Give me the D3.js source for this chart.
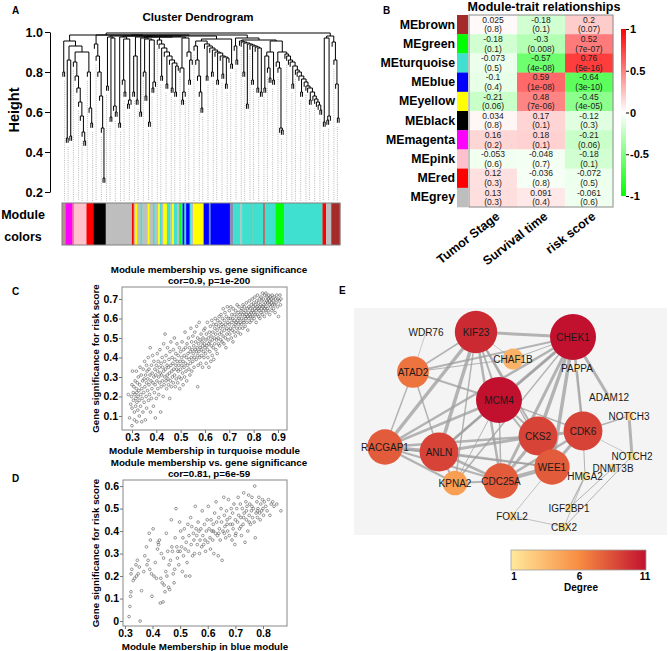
<!DOCTYPE html>
<html><head><meta charset="utf-8">
<script src="https://cdn.jsdelivr.net/npm/d3@7/dist/d3.min.js"></script>
<style>
body{margin:0;background:#fff;}
svg{display:block;font-family:'Liberation Sans',Arial,Helvetica,sans-serif;}
</style></head><body>
<svg id="fig" width="669" height="651"></svg>
<script>
// ================= DATA =================
// Panel A: merge height between neighbouring leaves of the gene tree
const dendroGaps = [
0.80,0.955,0.47,0.86,0.48,0.93,0.85,0.78,0.72,0.65,0.58,0.50,0.455,0.90,0.80,0.62,0.545,0.985,
0.94,0.88,0.80,0.68,0.52,0.27,0.985,0.73,0.975,0.575,0.97,0.63,0.60,0.98,0.545,0.975,0.76,0.70,
0.965,0.64,0.66,0.98,0.70,0.88,0.66,0.975,0.60,0.97,0.80,0.68,0.965,0.55,0.96,0.72,0.75,0.975,
0.96,0.94,0.78,0.92,0.90,0.74,0.88,0.86,0.72,0.845,0.70,0.83,0.975,0.82,0.66,0.70,0.97,0.90,0.76,
0.86,0.98,0.93,0.86,0.78,0.70,0.62,0.955,0.94,0.78,0.93,0.92,0.80,0.91,0.90,0.76,0.895,0.88,0.79,
0.875,0.74,0.87,0.965,0.84,0.985,0.93,0.86,0.97,0.955,0.95,0.80,0.945,0.64,0.94,0.935,0.76,0.93,
0.925,0.72,0.92,0.70,0.96,0.72,0.88,0.82,0.77,0.90,0.76,0.955,0.85,0.82,0.52,0.51,0.90,
0.89,0.88,0.86,0.85,0.74,0.83,0.81,0.80,0.78,0.70,0.765,0.75,0.73,0.72,0.66,0.70,0.68,0.665,0.65,0.635,0.61,
0.995,0.55,0.97,0.56,0.58,0.98,0.95,0.86,0.74,0.57];
// module colour of leaves, run-length [colour, number of leaves]
const moduleRuns = [
["#BC8F8F",2],["#FF00FF",4],["#F08080",1],["#FFC0CB",7],["#FF0000",4],["#000000",7],["#BEBEBE",15],
["#FF0000",1],["#D2B48C",1],["#FFFF00",1],["#BEBEBE",2],["#40E0D0",1],["#BEBEBE",3],["#FFFF00",1],["#BEBEBE",2],
["#40E0D0",1],["#BEBEBE",2],["#FFFF00",1],["#40E0D0",1],["#BEBEBE",1],["#FFFF00",2],["#40E0D0",2],["#BEBEBE",1],
["#FFFF00",1],["#40E0D0",2],["#BEBEBE",1],["#00FF00",1],["#40E0D0",1],["#0000FF",1],["#40E0D0",1],["#0000FF",2],
["#40E0D0",1],["#BEBEBE",1],
["#FFFF00",6],["#0000FF",3],["#6495ED",1],["#0000FF",11],["#8C8CB4",2],
["#40E0D0",4],["#BEBEBE",1],["#40E0D0",5],["#66CDAA",1],["#40E0D0",6],["#CD5C5C",1],["#40E0D0",6],
["#00FF00",5],["#40E0D0",22],["#FF0000",2],["#BEBEBE",3],["#A52A2A",5]];
const heightTicks = [0.2,0.4,0.6,0.8,1.0];
const guideCount = 60;

// Panel B
const traitNames = ["Tumor Stage","Survival time","risk score"];
const moduleNames = ["MEbrown","MEgreen","MEturquoise","MEblue","MEyellow","MEblack","MEmagenta","MEpink","MEred","MEgrey"];
const moduleColors = ["#A52A2A","#00FF00","#40E0D0","#0000FF","#FFFF00","#000000","#FF00FF","#FFC0CB","#FF0000","#BEBEBE"];
const corValues = [
[0.025,-0.18,0.2],[-0.18,-0.3,0.52],[-0.073,-0.57,0.76],[-0.1,0.59,-0.64],[-0.21,0.48,-0.45],
[0.034,0.17,-0.12],[0.16,0.18,-0.21],[-0.053,-0.048,-0.18],[0.12,-0.036,-0.072],[0.13,0.091,-0.061]];
const pValues = [
["0.8","0.1","0.07"],["0.1","0.008","7e-07"],["0.5","4e-08","5e-16"],["0.4","1e-08","3e-10"],["0.06","7e-06","4e-05"],
["0.8","0.1","0.3"],["0.2","0.1","0.06"],["0.6","0.7","0.1"],["0.3","0.8","0.5"],["0.3","0.4","0.6"]];
const corLegendTicks = [1,0.5,0,-0.5,-1];

// Panel C: turquoise module [MM, GS]
const turquoisePoints = [
[0.285,0.21],[0.29,0.09],[0.295,0.16],[0.298,0.20],[0.30,0.05],[0.30,0.26],[0.30,0.14],
[0.302,0.33],[0.305,0.22],[0.306,0.18],[0.308,0.25],[0.31,0.08],[0.31,0.12],[0.312,0.21],[0.313,0.28],[0.315,0.15],[0.316,0.19],[0.318,0.24],[0.318,0.33],[0.32,0.07],[0.32,0.17],[0.32,0.22],[0.322,0.27],[0.324,0.13],[0.325,0.2],[0.326,0.30],[0.328,0.23],[0.33,0.10],[0.33,0.18],
[0.332,0.26],[0.333,0.35],[0.335,0.15],[0.336,0.21],[0.338,0.31],[0.34,0.07],[0.34,0.24],[0.342,0.19],[0.344,0.28],[0.345,0.12],[0.346,0.34],[0.348,0.22],[0.35,0.29],[0.35,0.17],[0.352,0.38],[0.353,0.25],[0.355,0.08],[0.356,0.31],[0.358,0.20],[0.36,0.27],[0.36,0.36],[0.36,0.14],
[0.362,0.33],[0.364,0.23],[0.365,0.29],[0.367,0.40],[0.368,0.18],[0.37,0.34],[0.37,0.26],[0.372,0.21],[0.374,0.31],[0.375,0.45],[0.376,0.12],[0.378,0.28],[0.38,0.36],[0.38,0.19],[0.382,0.24],[0.383,0.32],[0.385,0.41],[0.386,0.27],[0.388,0.15],[0.39,0.30],[0.39,0.38],[0.392,0.22],[0.394,0.34],[0.395,0.26],[0.396,0.09],[0.398,0.31],[0.40,0.19],[0.40,0.36],
[0.402,0.28],[0.404,0.42],[0.405,0.33],[0.406,0.24],[0.408,0.38],[0.41,0.30],[0.41,0.21],[0.412,0.35],[0.414,0.27],[0.415,0.44],[0.416,0.32],[0.418,0.12],[0.42,0.37],[0.42,0.25],[0.422,0.31],[0.424,0.40],[0.425,0.28],[0.426,0.35],[0.428,0.20],[0.43,0.33],[0.43,0.47],[0.432,0.26],[0.434,0.38],[0.435,0.30],[0.436,0.52],[0.438,0.34],[0.44,0.28],[0.44,0.41],[0.442,0.24],[0.444,0.36],[0.445,0.31],[0.446,0.45],[0.448,0.29],
[0.45,0.35],[0.45,0.26],[0.452,0.39],[0.454,0.32],[0.455,0.19],[0.456,0.43],[0.458,0.28],[0.46,0.36],[0.46,0.48],[0.462,0.25],[0.464,0.33],[0.465,0.40],[0.466,0.30],[0.468,0.37],[0.47,0.27],[0.47,0.44],[0.472,0.34],[0.474,0.50],[0.475,0.31],[0.476,0.39],[0.478,0.25],[0.48,0.36],[0.48,0.42],[0.482,0.29],[0.484,0.34],[0.485,0.47],[0.486,0.38],[0.488,0.27],[0.49,0.33],[0.49,0.41],[0.492,0.36],[0.494,0.30],[0.495,0.45],[0.496,0.24],[0.498,0.38],
[0.50,0.34],[0.50,0.43],[0.502,0.29],[0.504,0.40],[0.505,0.36],[0.506,0.48],[0.508,0.32],[0.51,0.38],[0.51,0.26],[0.512,0.44],[0.514,0.35],[0.515,0.41],[0.516,0.30],[0.518,0.53],[0.52,0.37],[0.52,0.45],[0.522,0.33],[0.524,0.40],[0.525,0.28],[0.526,0.47],[0.528,0.36],[0.53,0.42],[0.532,0.50],[0.534,0.34],[0.535,0.39],[0.536,0.45],[0.538,0.31],[0.54,0.43],[0.54,0.37],[0.542,0.55],[0.544,0.40],[0.545,0.48],[0.546,0.33],[0.548,0.44],
[0.55,0.38],[0.55,0.51],[0.552,0.42],[0.554,0.46],[0.555,0.35],[0.556,0.40],[0.558,0.53],[0.56,0.44],[0.57,0.25],[0.562,0.48],[0.564,0.39],[0.565,0.43],[0.566,0.56],[0.568,0.45],[0.57,0.41],[0.57,0.50],[0.572,0.36],[0.574,0.47],[0.575,0.43],[0.576,0.58],[0.578,0.40],[0.58,0.49],[0.58,0.45],[0.582,0.37],[0.584,0.52],[0.585,0.44],[0.586,0.41],[0.588,0.48],[0.59,0.46],[0.59,0.35],[0.592,0.50],[0.594,0.43],[0.595,0.54],[0.596,0.40],[0.598,0.47],
[0.60,0.45],[0.60,0.55],[0.602,0.42],[0.604,0.49],[0.605,0.37],[0.606,0.52],[0.608,0.46],[0.61,0.44],[0.61,0.58],[0.612,0.40],[0.614,0.50],[0.615,0.47],[0.616,0.35],[0.618,0.53],[0.62,0.48],[0.62,0.43],[0.622,0.56],[0.624,0.38],[0.625,0.51],[0.626,0.46],[0.628,0.59],[0.63,0.49],[0.63,0.41],[0.632,0.53],[0.634,0.45],[0.635,0.57],[0.636,0.39],[0.638,0.50],[0.64,0.55],[0.64,0.47],[0.642,0.60],[0.644,0.52],[0.645,0.44],[0.646,0.57],[0.648,0.49],
[0.65,0.54],[0.65,0.42],[0.652,0.59],[0.654,0.50],[0.655,0.47],[0.656,0.56],[0.658,0.61],[0.66,0.52],[0.66,0.46],[0.662,0.58],[0.664,0.55],[0.665,0.49],[0.666,0.62],[0.668,0.53],[0.67,0.57],[0.67,0.48],[0.672,0.60],[0.674,0.51],[0.675,0.65],[0.676,0.56],[0.678,0.47],[0.68,0.59],[0.68,0.54],[0.682,0.63],[0.684,0.50],[0.685,0.57],[0.686,0.45],[0.688,0.61],[0.69,0.55],[0.69,0.52],[0.692,0.66],[0.694,0.58],[0.695,0.49],[0.696,0.60],[0.698,0.54],
[0.70,0.57],[0.70,0.64],[0.702,0.52],[0.704,0.60],[0.705,0.55],[0.706,0.66],[0.708,0.50],[0.71,0.58],[0.71,0.62],[0.712,0.54],[0.714,0.60],[0.715,0.48],[0.716,0.65],[0.718,0.56],[0.72,0.59],[0.72,0.53],[0.722,0.62],[0.724,0.57],[0.725,0.51],[0.726,0.64],[0.728,0.58],[0.73,0.55],[0.73,0.61],[0.732,0.67],[0.734,0.59],[0.735,0.53],[0.736,0.63],[0.738,0.57],[0.74,0.60],[0.74,0.66],[0.742,0.55],[0.744,0.62],[0.745,0.58],[0.746,0.52],[0.748,0.64],
[0.75,0.60],[0.75,0.57],[0.752,0.65],[0.754,0.62],[0.755,0.55],[0.756,0.67],[0.758,0.59],[0.76,0.63],[0.76,0.58],[0.762,0.66],[0.764,0.61],[0.765,0.56],[0.766,0.64],[0.768,0.60],[0.77,0.68],[0.77,0.62],[0.772,0.58],[0.774,0.65],[0.775,0.61],[0.776,0.54],[0.778,0.63],[0.78,0.66],[0.78,0.60],[0.782,0.69],[0.784,0.62],[0.785,0.58],[0.786,0.65],[0.788,0.61],[0.79,0.67],[0.79,0.63],[0.792,0.59],[0.794,0.70],[0.795,0.64],[0.796,0.61],[0.798,0.66],
[0.80,0.63],[0.80,0.68],[0.802,0.60],[0.804,0.65],[0.805,0.71],[0.806,0.62],[0.808,0.67],[0.81,0.64],[0.81,0.58],[0.812,0.69],[0.814,0.66],[0.815,0.62],[0.816,0.72],[0.818,0.65],[0.82,0.61],[0.82,0.68],[0.822,0.64],[0.824,0.70],[0.825,0.66],[0.826,0.60],[0.828,0.67],[0.83,0.63],[0.83,0.71],[0.832,0.65],[0.834,0.69],[0.835,0.62],[0.836,0.73],[0.838,0.66],[0.84,0.64],[0.84,0.70],[0.842,0.67],[0.844,0.61],[0.845,0.72],[0.846,0.65],[0.848,0.68],
[0.85,0.66],[0.85,0.73],[0.852,0.63],[0.854,0.69],[0.855,0.71],[0.856,0.65],[0.858,0.68],[0.86,0.70],[0.86,0.64],[0.862,0.72],[0.864,0.67],[0.865,0.69],[0.866,0.62],[0.868,0.71],[0.87,0.66],[0.872,0.70],[0.874,0.68],[0.875,0.64],[0.876,0.72],[0.878,0.67],[0.88,0.69],[0.882,0.65],[0.884,0.71],[0.886,0.67],[0.888,0.63],[0.89,0.70],[0.892,0.68],[0.895,0.72],[0.898,0.66],[0.90,0.70],[0.902,0.61],[0.905,0.69],[0.908,0.72],[0.91,0.67],[0.912,0.70]];
const turqXTicks = [0.3,0.4,0.5,0.6,0.7,0.8,0.9];
const turqYTicks = [0.1,0.2,0.3,0.4,0.5,0.6,0.7];

// Panel D: blue module [MM, GS]
const bluePoints = [
[0.315,0.02],[0.318,0.065],[0.32,0.11],[0.322,0.13],[0.322,0.21],[0.325,0.23],[0.33,0.18],[0.335,0.19],[0.34,0.25],[0.342,0.20],[0.345,0.27],[0.348,0.21],[0.355,0.0],[0.352,0.24],
[0.36,0.135],[0.368,0.22],[0.372,0.29],[0.378,0.33],[0.38,0.25],[0.384,0.27],[0.388,0.39],[0.39,0.23],[0.392,0.36],[0.396,0.21],[0.398,0.11],
[0.402,0.41],[0.405,0.20],[0.41,0.26],[0.414,0.19],[0.418,0.32],[0.42,0.35],[0.422,0.34],[0.425,0.36],[0.428,0.08],[0.43,0.19],[0.432,0.30],[0.435,0.17],[0.438,0.085],[0.44,0.28],[0.442,0.16],[0.445,0.13],[0.448,0.22],
[0.45,0.39],[0.452,0.20],[0.455,0.31],[0.458,0.15],[0.46,0.25],[0.462,0.14],[0.465,0.27],[0.468,0.45],[0.47,0.33],[0.472,0.31],[0.475,0.21],[0.478,0.17],[0.48,0.23],[0.482,0.37],[0.485,0.50],[0.488,0.33],[0.49,0.28],[0.492,0.31],[0.495,0.25],[0.498,0.44],
[0.50,0.31],[0.502,0.40],[0.505,0.33],[0.508,0.22],[0.51,0.37],[0.512,0.29],[0.515,0.41],[0.518,0.32],[0.52,0.20],[0.522,0.35],[0.525,0.26],[0.528,0.43],[0.53,0.31],[0.532,0.38],[0.535,0.20],[0.538,0.46],[0.54,0.34],[0.542,0.42],[0.545,0.29],[0.548,0.39],
[0.55,0.36],[0.552,0.30],[0.555,0.51],[0.558,0.41],[0.56,0.38],[0.562,0.34],[0.565,0.44],[0.568,0.40],[0.57,0.30],[0.572,0.36],[0.575,0.41],[0.578,0.33],[0.58,0.49],[0.582,0.38],[0.585,0.34],[0.588,0.43],[0.59,0.36],[0.592,0.31],[0.595,0.40],[0.598,0.45],
[0.60,0.35],[0.602,0.51],[0.605,0.41],[0.608,0.37],[0.61,0.32],[0.612,0.45],[0.615,0.40],[0.618,0.36],[0.62,0.43],[0.622,0.30],[0.625,0.48],[0.628,0.39],[0.63,0.53],[0.632,0.44],[0.635,0.38],[0.638,0.29],[0.64,0.46],[0.642,0.41],[0.645,0.36],[0.648,0.50],
[0.65,0.44],[0.652,0.27],[0.655,0.40],[0.658,0.55],[0.66,0.47],[0.662,0.42],[0.665,0.37],[0.668,0.49],[0.67,0.45],[0.672,0.40],[0.675,0.54],[0.678,0.38],[0.68,0.46],[0.682,0.43],[0.685,0.50],[0.688,0.36],[0.69,0.48],[0.692,0.41],[0.695,0.52],[0.698,0.34],
[0.70,0.45],[0.702,0.39],[0.705,0.50],[0.708,0.44],[0.71,0.55],[0.712,0.47],[0.715,0.41],[0.718,0.52],[0.72,0.46],[0.722,0.38],[0.725,0.50],[0.728,0.43],[0.73,0.57],[0.732,0.48],[0.735,0.35],[0.738,0.53],[0.74,0.45],[0.742,0.51],[0.745,0.40],[0.748,0.56],
[0.75,0.47],[0.752,0.52],[0.755,0.43],[0.758,0.49],[0.76,0.55],[0.762,0.46],[0.765,0.50],[0.768,0.44],[0.77,0.60],[0.772,0.37],[0.775,0.48],[0.778,0.53],[0.78,0.46],[0.782,0.50],[0.785,0.55],[0.788,0.48],[0.79,0.45],[0.792,0.52],[0.795,0.49],[0.798,0.54],
[0.80,0.50],[0.802,0.47],[0.805,0.53],[0.81,0.51],[0.815,0.49],[0.82,0.54],[0.825,0.47],[0.83,0.52],[0.835,0.53],[0.84,0.51],[0.85,0.52],[0.865,0.49],
[0.62,0.40],[0.66,0.39],[0.69,0.43],[0.72,0.42],[0.74,0.49],[0.76,0.51],[0.78,0.49],[0.70,0.38],[0.64,0.39],[0.67,0.43],[0.73,0.46],[0.75,0.44]];
const blueXTicks = [0.3,0.4,0.5,0.6,0.7,0.8];
const blueYTicks = [0,0.1,0.2,0.3,0.4,0.5,0.6];

// Panel E: hub network (layout coordinates)
const netNodes   = ["KIF23","CHEK1","WDR76","CHAF1B","ATAD2","PAPPA","MCM4","ADAM12","NOTCH3","CDK6","CKS2","RACGAP1","ANLN","NOTCH2","DNMT3B","WEE1","HMGA2","KPNA2","CDC25A","IGF2BP1","FOXL2","CBX2"];
const nodeDegree = [10,11,1,4,7,1,11,1,2,9,9,8,9,2,2,8,2,5,8,2,2,2];
const nodeLayoutX= [122,219,72,159,59,223,145,255,275,229,184,31,85,278,259,198,231,101,147,215,158,210];
const nodeLayoutY= [24,29,24,51,64,60,92,89,108,123,128,139,144,148,160,159,168,175,173,200,208,219];
const netEdges = [
["KIF23","CHEK1",3],["KIF23","ATAD2",1.5],["KIF23","RACGAP1",3.5],["KIF23","ANLN",3.5],["KIF23","MCM4",2],
["KIF23","CKS2",2],["KIF23","CDC25A",2.5],["KIF23","KPNA2",1.5],["KIF23","CHAF1B",0.7],["KIF23","WEE1",1.5],
["CHEK1","ATAD2",2],["CHEK1","CHAF1B",1],["CHEK1","MCM4",3],["CHEK1","RACGAP1",2.5],["CHEK1","ANLN",2],
["CHEK1","CKS2",3.5],["CHEK1","CDK6",2.5],["CHEK1","WEE1",3.5],["CHEK1","CDC25A",3],["CHEK1","KPNA2",1.5],
["CHEK1","ADAM12",3],["PAPPA","CDK6",0.8],["ATAD2","WDR76",0.7],["ATAD2","RACGAP1",1.5],["ATAD2","ANLN",1.5],
["ATAD2","MCM4",2],["ATAD2","CHAF1B",1],["MCM4","RACGAP1",2.5],["MCM4","ANLN",2.5],["MCM4","CKS2",2],
["MCM4","CDK6",1.5],["MCM4","WEE1",2],["MCM4","CDC25A",1.5],["MCM4","KPNA2",1],["RACGAP1","ANLN",3.5],
["RACGAP1","CKS2",2.5],["RACGAP1","CDC25A",2],["RACGAP1","KPNA2",2.5],["RACGAP1","WEE1",1.5],["ANLN","CKS2",3],
["ANLN","CDC25A",2.5],["ANLN","WEE1",2],["ANLN","KPNA2",2],["CKS2","CDK6",3],["CKS2","WEE1",2.5],
["CKS2","CDC25A",3],["CDK6","WEE1",3],["CDK6","CDC25A",2.5],["CDK6","NOTCH3",1.5],["CDK6","NOTCH2",0.7],
["CDK6","HMGA2",1],["NOTCH3","NOTCH2",3],["WEE1","CDC25A",4],["WEE1","FOXL2",0.8],["FOXL2","CBX2",0.8],
["HMGA2","IGF2BP1",1.2],["HMGA2","CBX2",0.8],["DNMT3B","IGF2BP1",1],["NOTCH2","CBX2",1],["KPNA2","CDC25A",2]];
const degreeTicks = [1,6,11];

// ================= DRAWING =================
const svg = d3.select("#fig");
svg.append("rect").attr("width",669).attr("height",651).attr("fill","#fff");
const defs = svg.append("defs");

function panelLetter(t,x,y){ svg.append("text").text(t).attr("x",x).attr("y",y).attr("font-size",10).attr("font-weight","bold"); }
panelLetter("A",12,14); panelLetter("B",383,14); panelLetter("C",12,295); panelLetter("D",12,482); panelLetter("E",339,294);

// ---------- Panel A ----------
(function(){
  const g = svg.append("g");
  const N = d3.sum(moduleRuns, d=>d[1]);
  const xLeaf = d3.scaleLinear().domain([-0.5, N-0.5]).range([62, 340]);
  const yA = d3.scaleLinear().domain([0.2, 1.0]).range([192, 32]);
  const hang = 0.024;
  function build(lo,hi){
    if(lo===hi) return {leaf:lo};
    let k=lo, m=-1;
    for(let i=lo;i<hi;i++){ if(dendroGaps[i]>m){m=dendroGaps[i];k=i;} }
    return {h:m, left:build(lo,k), right:build(k+1,hi)};
  }
  const tree = build(0,N-1);
  const segs=[], leafBottom=new Array(N);
  (function lay(n){
    if(n.leaf!==undefined){ n.x=xLeaf(n.leaf); return; }
    lay(n.left); lay(n.right);
    n.x=(n.left.x+n.right.x)/2;
    for(const c of [n.left,n.right]){
      const cy = c.leaf!==undefined ? n.h-hang : c.h;
      if(c.leaf!==undefined) leafBottom[c.leaf]=cy;
      segs.push([c.x,yA(cy),c.x,yA(n.h)]);
    }
    segs.push([n.left.x,yA(n.h),n.right.x,yA(n.h)]);
  })(tree);
  // guides
  const guides = d3.range(guideCount).map(i=>Math.round((i+0.5)*N/guideCount-0.5));
  g.selectAll("line.guide").data(guides).join("line")
    .attr("x1",d=>xLeaf(d)).attr("x2",d=>xLeaf(d))
    .attr("y1",d=>yA(leafBottom[d]-0.02)).attr("y2",201)
    .attr("stroke","#9a9a9a").attr("stroke-width",0.7).attr("stroke-dasharray","1,1.2");
  g.selectAll("line.seg").data(segs).join("line")
    .attr("x1",d=>d[0]).attr("y1",d=>d[1]).attr("x2",d=>d[2]).attr("y2",d=>d[3])
    .attr("stroke","#000").attr("stroke-width",1.0);
  // axis
  const ax = g.append("g").attr("transform","translate(50,0)")
    .call(d3.axisLeft(yA).tickValues(heightTicks).tickFormat(d3.format(".1f")).tickSize(5).tickSizeOuter(0).tickPadding(2));
  ax.selectAll("text").attr("font-size",12.5).attr("font-weight","bold").attr("fill","#000");
  ax.select(".domain").attr("stroke","#000");
  g.append("text").text("Cluster Dendrogram").attr("x",198).attr("y",21).attr("text-anchor","middle").attr("font-size",11.5).attr("font-weight","bold");
  g.append("text").text("Height").attr("transform","translate(14,110) rotate(-90)").attr("text-anchor","middle").attr("dominant-baseline","central").attr("font-size",14.5).attr("font-weight","bold");
  // module colour bar
  let acc=0; const runs=moduleRuns.map(r=>{const o={c:r[0],s:acc,n:r[1]}; acc+=r[1]; return o;});
  g.selectAll("rect.mod").data(runs).join("rect")
    .attr("x",d=>xLeaf(d.s-0.5)).attr("width",d=>xLeaf(d.s+d.n-0.5)-xLeaf(d.s-0.5)+0.3)
    .attr("y",203).attr("height",42).attr("fill",d=>d.c);
  g.append("rect").attr("x",62).attr("y",203).attr("width",278).attr("height",42).attr("fill","none").attr("stroke","#808080").attr("stroke-width",1);
  g.append("text").text("Module").attr("x",23).attr("y",215).attr("text-anchor","middle").attr("dominant-baseline","central").attr("font-size",12.5).attr("font-weight","bold");
  g.append("text").text("colors").attr("x",23).attr("y",237).attr("text-anchor","middle").attr("dominant-baseline","central").attr("font-size",12.5).attr("font-weight","bold");
})();

// ---------- Panel B ----------
(function(){
  const g = svg.append("g");
  const x = d3.scaleBand().domain(traitNames).range([469,613]);
  const y = d3.scaleBand().domain(moduleNames).range([15,207]);
  const col = d3.scaleLinear().domain([-1,0,1]).range(["#00FF00","#FFFFFF","#FF0000"]);
  const cells=[];
  moduleNames.forEach((m,i)=>traitNames.forEach((t,j)=>cells.push({m,t,v:corValues[i][j],p:pValues[i][j]})));
  g.selectAll("rect.cell").data(cells).join("rect")
    .attr("x",d=>x(d.t)).attr("y",d=>y(d.m)).attr("width",x.bandwidth()+0.3).attr("height",y.bandwidth()+0.3)
    .attr("fill",d=>col(d.v));
  g.selectAll("text.v").data(cells).join("text")
    .attr("x",d=>x(d.t)+x.bandwidth()/2).attr("y",d=>y(d.m)+4.8).attr("text-anchor","middle").attr("dominant-baseline","central")
    .attr("font-size",8.5).attr("fill","#222").text(d=>String(d.v));
  g.selectAll("text.p").data(cells).join("text")
    .attr("x",d=>x(d.t)+x.bandwidth()/2).attr("y",d=>y(d.m)+14.4).attr("text-anchor","middle").attr("dominant-baseline","central")
    .attr("font-size",8.5).attr("fill","#222").text(d=>"("+d.p+")");
  g.append("rect").attr("x",469).attr("y",15).attr("width",144).attr("height",192).attr("fill","none").attr("stroke","#8c8c8c").attr("stroke-width",1);
  g.selectAll("rect.mc").data(moduleNames).join("rect")
    .attr("x",457).attr("y",d=>y(d)).attr("width",11).attr("height",y.bandwidth()+0.3).attr("fill",(d,i)=>moduleColors[i]);
  g.selectAll("text.rl").data(moduleNames).join("text")
    .attr("x",455).attr("y",d=>y(d)+y.bandwidth()/2).attr("text-anchor","end").attr("dominant-baseline","central")
    .attr("font-size",12.3).attr("font-weight","bold").text(d=>d);
  g.selectAll("text.cl").data(traitNames).join("text")
    .attr("transform",d=>`translate(${x(d)+x.bandwidth()/2+2},${211}) rotate(-38)`)
    .attr("text-anchor","end").attr("dominant-baseline","hanging").attr("font-size",12.5).attr("font-weight","bold").text(d=>d);
  g.append("text").text("Module-trait relationships").attr("x",544).attr("y",11).attr("text-anchor","middle").attr("font-size",12.5).attr("font-weight","bold");
  // legend
  const ly = d3.scaleLinear().domain([-1,1]).range([196,29]);
  const gr = defs.append("linearGradient").attr("id","gwr").attr("x1",0).attr("y1",1).attr("x2",0).attr("y2",0);
  [-1,0,1].forEach(v=>gr.append("stop").attr("offset",(v+1)/2).attr("stop-color",col(v)));
  g.append("rect").attr("x",621).attr("y",ly(1)).attr("width",5).attr("height",ly(-1)-ly(1)).attr("fill","url(#gwr)");
  const lax = g.append("g").attr("transform","translate(626,0)")
    .call(d3.axisRight(ly).tickValues(corLegendTicks).tickFormat(d=>String(d)).tickSize(3).tickPadding(1));
  lax.select(".domain").remove();
  lax.selectAll("text").attr("font-size",11).attr("font-weight","bold").attr("fill","#000");
})();

// ---------- Panels C & D ----------
function scatterPanel(pts, xDom, yDom, box, xTicks, yTicks, title2, xlab, titleY){
  const g = svg.append("g");
  const x = d3.scaleLinear().domain(xDom).range([box.l, box.r]);
  const y = d3.scaleLinear().domain(yDom).range([box.b, box.t]);
  g.selectAll("circle").data(pts).join("circle")
    .attr("cx",d=>x(d[0])).attr("cy",d=>y(d[1])).attr("r",1.35)
    .attr("fill","none").attr("stroke","#555").attr("stroke-width",0.6);
  g.append("rect").attr("x",box.l).attr("y",box.t).attr("width",box.r-box.l).attr("height",box.b-box.t)
    .attr("fill","none").attr("stroke","#888").attr("stroke-width",1);
  const fmt = d=> d===0?"0":d.toFixed(1);
  const xa = g.append("g").attr("transform",`translate(0,${box.b})`).call(d3.axisBottom(x).tickValues(xTicks).tickFormat(fmt).tickSize(3).tickPadding(1));
  const ya = g.append("g").attr("transform",`translate(${box.l},0)`).call(d3.axisLeft(y).tickValues(yTicks).tickFormat(fmt).tickSize(3).tickPadding(1));
  [xa,ya].forEach(a=>{ a.select(".domain").remove(); a.selectAll("line").attr("stroke","#777");
    a.selectAll("text").attr("font-size",10.5).attr("font-weight","bold").attr("fill","#000"); });
  g.append("text").text("Module membership vs. gene significance").attr("x",209).attr("y",titleY).attr("text-anchor","middle").attr("font-size",9.8).attr("font-weight","bold");
  g.append("text").text(title2).attr("x",209).attr("y",titleY+11.5).attr("text-anchor","middle").attr("font-size",9.8).attr("font-weight","bold");
  g.append("text").text(xlab).attr("x",(box.l+box.r)/2).attr("y",box.b+24).attr("text-anchor","middle").attr("font-size",9.8).attr("font-weight","bold");
  g.append("text").text("Gene significance for risk score").attr("transform",`translate(95,${(box.t+box.b)/2}) rotate(-90)`)
    .attr("text-anchor","middle").attr("dominant-baseline","central").attr("font-size",9.8).attr("font-weight","bold");
}
scatterPanel(turquoisePoints,[0.259,0.937],[0.028,0.7615],{l:122,r:287,t:287,b:430},turqXTicks,turqYTicks,"cor=0.9, p=1e-200","Module Membership in turquoise module",272.5);
scatterPanel(bluePoints,[0.293,0.887],[-0.022,0.627],{l:123,r:287,t:480,b:626},blueXTicks,blueYTicks,"cor=0.81, p=6e-59","Module Membership in blue module",465.5);

// ---------- Panel E ----------
(function(){
  const g = svg.append("g");
  const px = d3.scaleLinear().domain([0,313]).range([354,667]);
  const py = d3.scaleLinear().domain([0,227]).range([308,535]);
  g.append("rect").attr("x",px(0)).attr("y",py(0)).attr("width",px(313)-px(0)).attr("height",py(227)-py(0)).attr("fill","#F4F4F4");
  const dcol = d3.scaleLinear().domain([1,6,11]).range(["#FFE99C","#F88D42","#C1112F"]);
  const rad = d3.scaleLinear().domain([1,2,4,11]).range([2.5,4.5,10.5,23]);
  const nodes = netNodes.map((n,i)=>({n,d:nodeDegree[i],x:px(nodeLayoutX[i]),y:py(nodeLayoutY[i])}));
  const byName = new Map(nodes.map(d=>[d.n,d]));
  g.selectAll("line").data(netEdges).join("line")
    .attr("x1",d=>byName.get(d[0]).x).attr("y1",d=>byName.get(d[0]).y)
    .attr("x2",d=>byName.get(d[1]).x).attr("y2",d=>byName.get(d[1]).y)
    .attr("stroke","#9e9e9e").attr("stroke-opacity",0.75).attr("stroke-width",d=>d[2]);
  g.selectAll("circle").data(nodes).join("circle")
    .attr("cx",d=>d.x).attr("cy",d=>d.y).attr("r",d=>rad(d.d)).attr("fill",d=>dcol(d.d));
  g.selectAll("text").data(nodes).join("text")
    .attr("x",d=>d.x).attr("y",d=>d.y).attr("text-anchor","middle").attr("dominant-baseline","central")
    .attr("font-size",10).attr("fill","#1a1a1a").text(d=>d.n);
  // legend
  const lx = d3.scaleLinear().domain([1,11]).range([511,646]);
  const gr = defs.append("linearGradient").attr("id","deg");
  degreeTicks.forEach(v=>gr.append("stop").attr("offset",(v-1)/10).attr("stop-color",dcol(v)));
  g.append("rect").attr("x",lx(1)).attr("y",550).attr("width",lx(11)-lx(1)).attr("height",20).attr("fill","url(#deg)").attr("stroke","#a0a0a0").attr("stroke-width",0.8);
  g.selectAll("text.dt").data(degreeTicks).join("text").attr("class","dt")
    .attr("x",d=>lx(d)+(d===1?3:(d===11?-1:1))).attr("y",580).attr("text-anchor","middle").attr("font-size",10).attr("font-weight","bold").text(d=>d);
  g.append("text").text("Degree").attr("x",581).attr("y",591).attr("text-anchor","middle").attr("font-size",10).attr("font-weight","bold");
})();
</script>
</body></html>
